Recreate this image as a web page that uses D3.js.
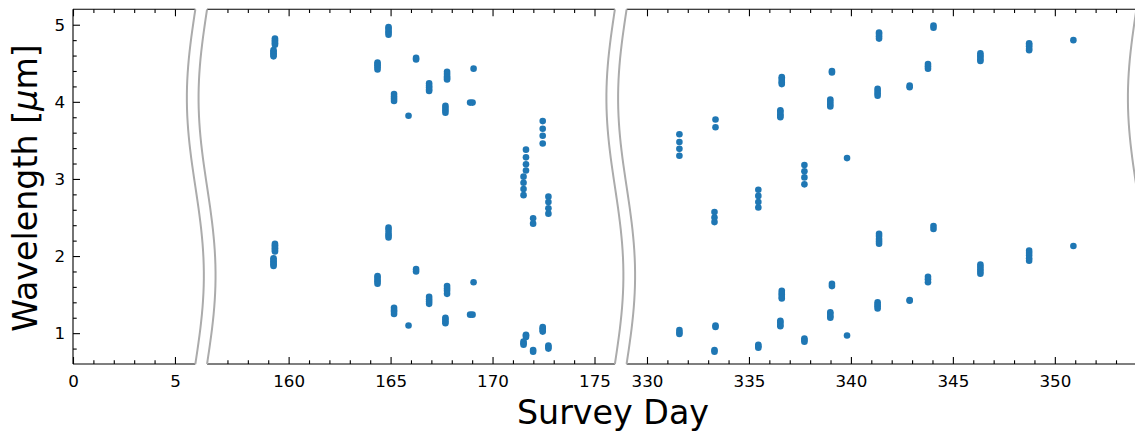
<!DOCTYPE html>
<html>
<head>
<meta charset="utf-8">
<script src="https://cdn.jsdelivr.net/npm/d3@7"></script>
<style>
  body { margin: 0; background: #fff; }
  svg { display: block; font-family: "DejaVu Sans", sans-serif; }
</style>
</head>
<body>
<svg id="chart" width="1135" height="433"></svg>
<script>
// Broken x axis: three day windows shown side by side
const panelDomains = [[0, 6], [156, 176], [329, 354]];
const panelMajorTicks = [[0, 5], [160, 165, 170, 175], [330, 335, 340, 345, 350]];
const wavelengthTicks = [1, 2, 3, 4, 5];

// Observation days and the wavelengths sampled on each of them
const visitDays = [
  159.33, 159.26, 164.36, 164.90, 165.17, 165.88, 166.25, 166.89, 167.77, 167.69,
  169.07, 168.90, 169.02, 171.64, 171.52, 172.46, 171.99, 172.74,
  331.59, 333.36, 333.31, 335.46, 337.72, 336.61, 336.54, 339.07, 338.99, 339.81,
  341.38, 341.31, 342.88, 343.78, 344.05, 346.35, 348.74, 350.91
];
const visitWavelengths = [
  [4.82, 4.80, 4.78, 4.76, 4.74, 2.16, 2.14, 2.12, 2.10, 2.08, 2.06],
  [4.67, 4.65, 4.63, 4.61, 4.59, 1.97, 1.95, 1.93, 1.91, 1.89, 1.87],
  [4.51, 4.49, 4.47, 4.45, 4.42, 1.74, 1.72, 1.69, 1.67, 1.64],
  [4.97, 4.95, 4.92, 4.90, 4.87, 2.37, 2.34, 2.30, 2.27, 2.24],
  [4.10, 4.07, 4.04, 4.01, 1.33, 1.30, 1.28, 1.25],
  [3.82, 1.10],
  [4.57, 4.55, 1.83, 1.80],
  [4.24, 4.21, 4.19, 4.16, 4.14, 1.47, 1.44, 1.41, 1.38],
  [4.39, 4.36, 4.33, 4.31, 4.29, 1.61, 1.58, 1.55, 1.51],
  [3.95, 3.92, 3.89, 3.86, 1.20, 1.18, 1.15, 1.13],
  [4.43, 1.66],
  [3.99, 1.24],
  [3.99, 1.24],
  [3.38, 3.28, 3.19, 3.11, 0.98, 0.97, 0.95],
  [3.03, 2.95, 2.87, 2.79, 0.89, 0.87, 0.85],
  [3.75, 3.65, 3.56, 3.46, 1.08, 1.06, 1.04, 1.02],
  [2.49, 2.42, 0.78, 0.76],
  [2.77, 2.70, 2.62, 2.55, 0.84, 0.82, 0.80],
  [3.58, 3.48, 3.39, 3.30, 1.04, 1.01, 0.99],
  [3.77, 3.67, 1.10, 1.08],
  [2.57, 2.50, 2.44, 0.78, 0.76],
  [2.86, 2.78, 2.70, 2.63, 0.85, 0.83, 0.81],
  [3.18, 3.10, 3.02, 2.93, 0.93, 0.91, 0.89],
  [4.32, 4.30, 4.27, 4.25, 4.23, 1.55, 1.52, 1.50, 1.47, 1.45],
  [3.89, 3.87, 3.84, 3.82, 3.80, 1.16, 1.14, 1.11, 1.09],
  [4.40, 4.38, 1.64, 1.61],
  [4.03, 4.00, 3.97, 3.94, 1.27, 1.25, 1.22, 1.20],
  [3.27, 0.97],
  [4.90, 4.88, 4.85, 4.82, 2.29, 2.26, 2.22, 2.19, 2.16],
  [4.17, 4.14, 4.11, 4.08, 1.40, 1.37, 1.35, 1.32],
  [4.21, 4.19, 1.43, 1.42],
  [4.49, 4.46, 4.43, 1.73, 1.70, 1.66],
  [4.99, 4.96, 2.39, 2.35],
  [4.63, 4.60, 4.58, 4.55, 4.53, 1.89, 1.86, 1.83, 1.80, 1.77],
  [4.76, 4.74, 4.72, 4.69, 4.67, 2.07, 2.04, 2.01, 1.97, 1.94],
  [4.80, 2.13]
];

const svg = d3.select("#chart");
const plotLeft = 73, plotRight = 1136.4, plotTop = 9.3, plotBottom = 364, gap = 11.7;
const ink = "#000", dotColor = "#1f77b4", breakColor = "#ababab";

// Every panel shares the same pixels-per-day
const totalDays = d3.sum(panelDomains, d => d[1] - d[0]);
const pxPerDay = (plotRight - plotLeft - gap * (panelDomains.length - 1)) / totalDays;
let cursor = plotLeft;
const xScales = panelDomains.map(dom => {
  const w = (dom[1] - dom[0]) * pxPerDay;
  const s = d3.scaleLinear().domain(dom).range([cursor, cursor + w]);
  cursor += w + gap;
  return s;
});
const y = d3.scaleLinear().domain([0.6, 5.2]).range([plotBottom, plotTop]);

const points = [];
visitDays.forEach((day, i) => {
  visitWavelengths[i].forEach(w => points.push({ day, w }));
});

const tickFont = "16.7px";
const styleAxis = a => {
  a.select(".domain").remove();
  a.selectAll("line").attr("stroke", ink).attr("stroke-width", 1.1);
  a.selectAll("text").attr("fill", ink).style("font-size", tickFont)
    .style("font-family", "DejaVu Sans, sans-serif");
};
const wave = d3.line().x(d => d[0]).y(d => d[1]);
const edgeCurve = x0 => d3.range(0, 1.0001, 0.02).map(t =>
  [x0 - 8.5 * Math.sin(2 * Math.PI * t), plotTop + t * (plotBottom - plotTop)]);

xScales.forEach((xs, pi) => {
  const [d0, d1] = xs.domain();
  const minor = d3.range(Math.ceil(d0), Math.floor(d1) + 1)
    .filter(v => !panelMajorTicks[pi].includes(v))
    .filter(v => v !== d1 && (pi === 0 || v !== d0));

  const g = svg.append("g");
  // bottom and top axes: inward ticks, labels only below
  styleAxis(g.append("g").attr("transform", `translate(0,${plotBottom})`)
    .call(d3.axisBottom(xs).tickValues(panelMajorTicks[pi]).tickSize(-7).tickPadding(11).tickFormat(d3.format("d"))));
  styleAxis(g.append("g").attr("transform", `translate(0,${plotBottom})`)
    .call(d3.axisBottom(xs).tickValues(minor).tickSize(-3.7).tickFormat("")));
  styleAxis(g.append("g").attr("transform", `translate(0,${plotTop})`)
    .call(d3.axisTop(xs).tickValues(panelMajorTicks[pi]).tickSize(-7).tickFormat("")));
  styleAxis(g.append("g").attr("transform", `translate(0,${plotTop})`)
    .call(d3.axisTop(xs).tickValues(minor).tickSize(-3.7).tickFormat("")));

  // spines
  const [r0, r1] = xs.range();
  g.append("line").attr("x1", r0).attr("x2", r1).attr("y1", plotTop).attr("y2", plotTop)
    .attr("stroke", ink).attr("stroke-width", 1.1);
  g.append("line").attr("x1", r0).attr("x2", r1).attr("y1", plotBottom).attr("y2", plotBottom)
    .attr("stroke", ink).attr("stroke-width", 1.1);

  // observations in this window
  const inPanel = points.filter(p => p.day >= d0 && p.day <= d1);
  g.append("g").selectAll("circle").data(inPanel).join("circle")
    .attr("cx", d => xs(d.day)).attr("cy", d => y(d.w)).attr("r", 3.3)
    .attr("fill", dotColor);

  // wavy break markers at the panel edges
  const edges = pi > 0 ? [r0, r1] : [r1];
  edges.forEach(e => {
    g.append("path").attr("d", wave(edgeCurve(e))).attr("fill", "none")
      .attr("stroke", breakColor).attr("stroke-width", 2);
  });
});

// left spine and wavelength axis
const yMinor = d3.range(8, 52, 2).map(v => v / 10).filter(v => !Number.isInteger(v));
styleAxis(svg.append("g").attr("transform", `translate(${plotLeft},0)`)
  .call(d3.axisLeft(y).tickValues(wavelengthTicks).tickSize(-7).tickPadding(8).tickFormat(d3.format("d"))));
styleAxis(svg.append("g").attr("transform", `translate(${plotLeft},0)`)
  .call(d3.axisLeft(y).tickValues(yMinor).tickSize(-3.7).tickFormat("")));
svg.append("line").attr("x1", plotLeft).attr("x2", plotLeft).attr("y1", plotTop).attr("y2", plotBottom)
  .attr("stroke", ink).attr("stroke-width", 1.1);

// axis titles
svg.append("text").attr("x", 613).attr("y", 424).attr("text-anchor", "middle")
  .style("font-size", "33.3px").attr("fill", ink).text("Survey Day");
const yTitle = svg.append("text").attr("transform", "translate(37,188) rotate(-90)")
  .attr("text-anchor", "middle").style("font-size", "33.3px").attr("fill", ink);
yTitle.append("tspan").text("Wavelength [");
yTitle.append("tspan").style("font-style", "italic").text("μ");
yTitle.append("tspan").text("m]");
</script>
</body>
</html>
